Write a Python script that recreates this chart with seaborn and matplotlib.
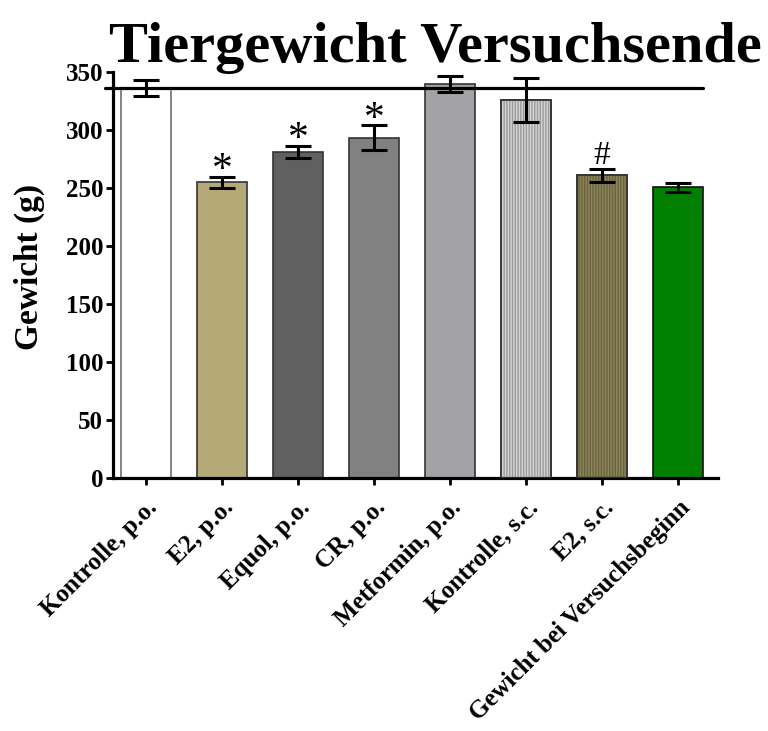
import matplotlib
matplotlib.use("Agg")
import matplotlib.pyplot as plt
import seaborn as sns
import pandas as pd
import numpy as np

categories = ["Kontrolle, p.o.", "E2, p.o.", "Equol, p.o.", "CR, p.o.",
              "Metformin, p.o.", "Kontrolle, s.c.", "E2, s.c.",
              "Gewicht bei Versuchsbeginn"]
means = [336, 255, 281, 293.5, 339.5, 326, 261, 250.5]
sems = [7, 4.6, 5.3, 10.5, 6.9, 19, 5.7, 4]
marks = ["", "*", "*", "*", "", "", "#", ""]
reference_value = 336
yticks = [0, 50, 100, 150, 200, 250, 300, 350]

colors = ["#FFFFFF", "#B5A978", "#606060", "#818181", "#A3A2A6",
          "#D6D6D6", "#8C8559", "#007F00"]
edgecols = ["#707070", "#333333", "#333333", "#333333", "#333333",
            "#333333", "#333333", "#111111"]
hatched = [False, False, False, False, False, True, True, False]
hatch_colors = [None, None, None, None, None, "#9A9A9A", "#6A6440", None]

sns.set_theme(style="white")
plt.rcParams["font.family"] = ["Liberation Serif", "DejaVu Serif"]
plt.rcParams["hatch.linewidth"] = 1.0
plt.rcParams["text.color"] = "black"
plt.rcParams["xtick.color"] = "black"
plt.rcParams["ytick.color"] = "black"

df = pd.DataFrame({"cat": categories, "val": means})

fig = plt.figure(figsize=(7.68, 7.31), dpi=100)
ax = fig.add_axes([113/768, 1-478/731, (718-113)/768, (478-72)/731])

sns.barplot(data=df, x="cat", y="val", hue="cat", palette=colors,
            saturation=1, legend=False, width=0.66, ax=ax, errorbar=None,
            dodge=False)

x = np.arange(len(categories))
for i, p in enumerate(ax.patches):
    p.set_edgecolor(edgecols[i])
    p.set_linewidth(1.2)
    p.set_zorder(2)

# hatch overlays
for i in range(len(categories)):
    if hatched[i]:
        ax.bar(x[i], means[i], width=0.66, fill=False, hatch="||||||",
               edgecolor=hatch_colors[i], linewidth=0, zorder=2.5)
        ax.bar(x[i], means[i], width=0.66, fill=False,
               edgecolor=edgecols[i], linewidth=1.2, zorder=2.6)

ax.errorbar(x, means, yerr=sems, fmt="none", ecolor="black",
            elinewidth=2.2, capsize=9.7, capthick=2.2, zorder=3)

ax.plot([-0.54, 7.33], [reference_value, reference_value], color="black",
        lw=2.3, clip_on=False, zorder=4)

for i, m in enumerate(marks):
    if m == "*":
        ax.annotate(m, (x[i], means[i] + sems[i]), xytext=(0, -3),
                    textcoords="offset points", ha="center", va="baseline",
                    fontsize=30, fontfamily="Liberation Serif", color="black")
    elif m:
        ax.annotate(m, (x[i], means[i] + sems[i]), xytext=(0, 3.5),
                    textcoords="offset points", ha="center", va="baseline",
                    fontsize=24, fontfamily="Liberation Serif", color="black")

ax.set_ylim(0, 350)
ax.set_xlim(-0.434, 7.526)
ax.set_yticks(yticks)
ax.set_yticklabels([str(t) for t in yticks], fontsize=18, fontweight="bold")
ax.set_xticks(x)
ax.set_xticklabels(categories, rotation=45, ha="right",
                   rotation_mode="anchor", fontsize=18, fontweight="bold")
ax.set_xlabel("")
ax.set_ylabel("")
for s in ["top", "right"]:
    ax.spines[s].set_visible(False)
for s in ["left", "bottom"]:
    ax.spines[s].set_linewidth(2.3)
    ax.spines[s].set_color("black")
ax.tick_params(axis="both", direction="out", length=5, width=2,
               color="black", labelcolor="black", pad=2,
               left=True, bottom=True)
ax.tick_params(axis="x", pad=8)
ax.grid(False)

fig.text(29/768, 1-267/731, "Gewicht (g)", rotation=90, ha="center",
         va="center", fontsize=24, fontweight="bold")
fig.text(435/768, 1-62/731, "Tiergewicht Versuchsende", ha="center",
         va="baseline", fontsize=42, fontweight="bold")

fig.savefig("out.png", dpi=100)
